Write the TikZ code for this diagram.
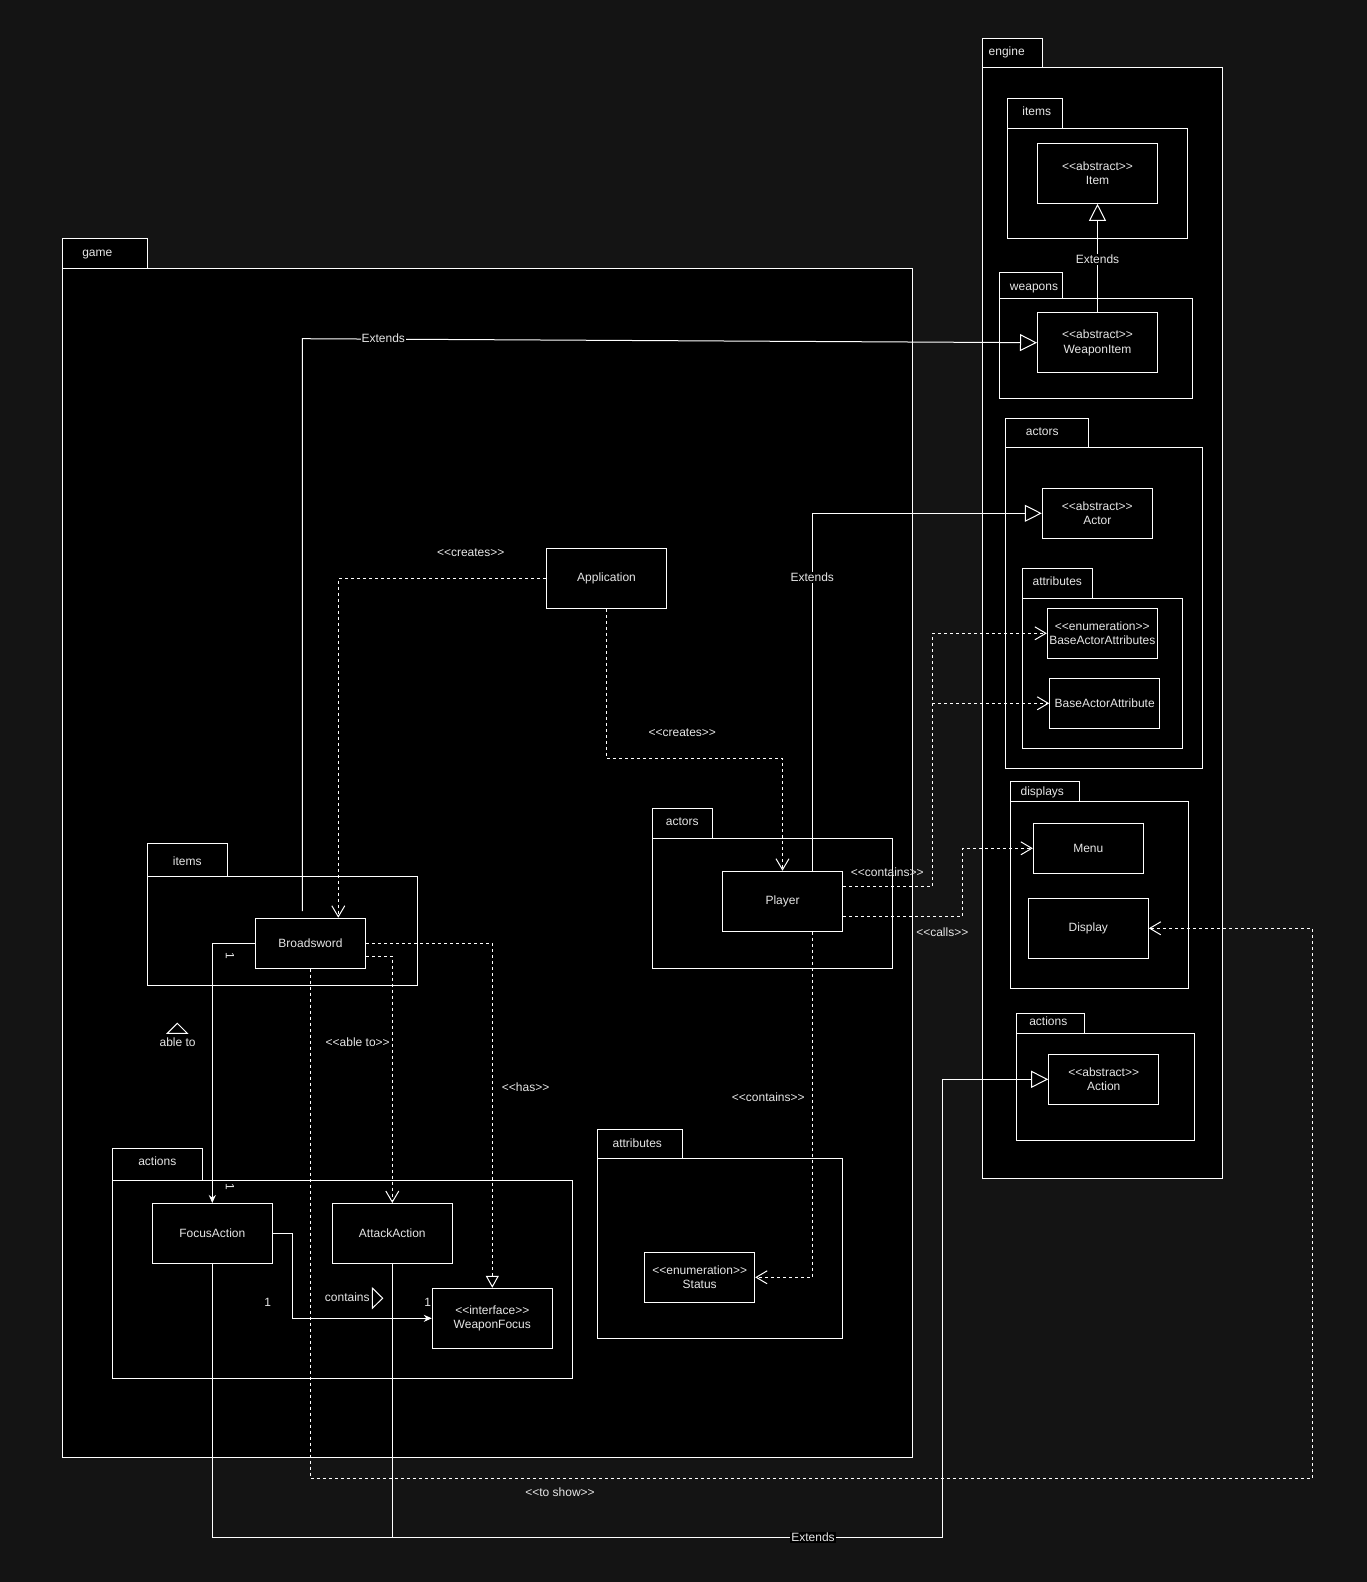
\documentclass[tikz,border=0pt]{standalone}
\usepackage{fontspec}
\setmainfont{Liberation Sans}
\usetikzlibrary{arrows.meta,calc}
\definecolor{bg}{HTML}{141414}
\definecolor{txt}{HTML}{E6E6E6}
\newcommand{\fs}{\fontsize{12}{14.5}\selectfont}
% #1 name, #2 tx1, #3 ty1, #4 tx2, #5 ty2 (=body top), #6 bx2, #7 by2, #8 label position x,y, #9 text
\newcommand{\umlpkg}[9]{%
  \draw[pk] (#2,#3) rectangle (#4,#5);
  \draw[pk] (#2,#5) rectangle (#6,#7);
  \node[lbl,text height=9pt,text depth=2.5pt] (#1) at (#8) {#9};}
\begin{document}
\begin{tikzpicture}[x=1pt,y=-1pt,
 cls/.style={draw=white, fill=black, text=txt, line width=1pt, align=center, inner sep=0pt, font=\fs},
 lbl/.style={text=txt, font=\fs, inner sep=1pt},
 pk/.style={draw=white, fill=black, line width=1pt},
 con/.style={draw=white, line width=1pt},
 dsh/.style={con, dash pattern=on 3pt off 3pt},
 ext/.style={con, -{Triangle[length=17pt,width=17pt,fill=black]}},
 dep/.style={dsh, -{Straight Barb[length=11pt,width=13pt]}},
 real/.style={dsh, -{Triangle[length=12pt,width=13pt,fill=black]}},
 asc/.style={con, -{Stealth[length=8pt,width=7pt]}},
 c120/.style={cls, minimum width=120pt, minimum height=60pt},
 c110/.style={cls, minimum width=110pt, minimum height=50pt},
]
\fill[bg] (0,0) rectangle (1367,1582);
\useasboundingbox (0,0) rectangle (1367,1582);

% packages: game
\umlpkg{pgame}{62.3}{238.3}{147.3}{268.3}{912.3}{1457.9}{97.3,253}{game}
\umlpkg{pgitems}{147.3}{843.3}{227.3}{876}{417.3}{985.7}{187.3,862.3}{items}
\umlpkg{pgactions}{112.3}{1148.3}{202.3}{1180.7}{572.3}{1378.2}{157.3,1162.3}{actions}
\umlpkg{pgactors}{652.3}{808.3}{712.3}{838.3}{892.3}{968.3}{682.3,822.7}{actors}
\umlpkg{pgattr}{597.3}{1129}{682.3}{1158.7}{842.4}{1338.3}{637.3,1144}{attributes}
% packages: engine
\umlpkg{peng}{982.3}{38.3}{1042.3}{67.7}{1222.3}{1178.4}{1006.7,52}{engine}
\umlpkg{peitems}{1007.7}{98.3}{1062.3}{128.3}{1187}{238.3}{1036.7,112.7}{items}
\umlpkg{pewpn}{999.7}{272.3}{1062.3}{298.3}{1192.3}{398.3}{1034,287.7}{weapons}
\umlpkg{peactors}{1005}{418.3}{1088.3}{447.7}{1202.3}{768.3}{1042.3,432.7}{actors}
\umlpkg{peattr}{1022.3}{568.3}{1092.3}{598.3}{1182.3}{748.3}{1057.3,582.7}{attributes}
\umlpkg{pedisp}{1010.7}{781.7}{1079}{801}{1188.3}{988.3}{1042.3,792.7}{displays}
\umlpkg{peact}{1016.3}{1013.3}{1084.3}{1033.3}{1194}{1140}{1048.3,1022.7}{actions}

% classes
\node[c120] (item) at (1097.5,173.3) {<{}<abstract>{}>\\Item};
\node[c120] (wi) at (1097.5,342.7) {<{}<abstract>{}>\\WeaponItem};
\node[c110] (actor) at (1097.3,513.3) {<{}<abstract>{}>\\Actor};
\node[c110] (baas) at (1102.3,633.3) {<{}<enumeration>{}>\\BaseActorAttributes};
\node[c110] (baa) at (1104.7,703.3) {BaseActorAttribute};
\node[c110] (menu) at (1088.3,848.3) {Menu};
\node[c120] (disp) at (1088.3,928.3) {Display};
\node[c110] (act) at (1103.7,1079.3) {<{}<abstract>{}>\\Action};
\node[c120] (app) at (606.5,578.3) {Application};
\node[c120] (player) at (782.5,901.2) {Player};
\node[c110] (bs) at (310.5,943.2) {Broadsword};
\node[c120] (fa) at (212.3,1233.5) {FocusAction};
\node[c120] (aa) at (392.3,1233.5) {AttackAction};
\node[c120] (wf) at (492.3,1318.3) {<{}<interface>{}>\\WeaponFocus};
\node[c110] (status) at (699.7,1277.3) {<{}<enumeration>{}>\\Status};

% Extends connectors
\coordinate (bsext) at (302.3,911);
\draw[ext] (bsext) -- (302.3,338.7) -- (wi.west);
\node[lbl,fill=black] (lext1) at (383.3,338.5) {Extends};
\draw[ext] (wi.north) -- (item.south);
\node[lbl,fill=black] (lext2) at (1097.5,259.3) {Extends};
\draw[ext] ($(player.north)+(29.8,0)$) |- (actor.west);
\node[lbl,fill=black] (lext3) at (812.3,577.3) {Extends};
\draw[ext] (fa.south) -- (212.3,1537.6) -- (942.3,1537.6) |- (act.west);
\draw[con] (aa.south) -- (392.3,1537.6);
\node[lbl,fill=black] (lext4) at (813,1537.6) {Extends};

% dependencies
\draw[dep] (app.west) -| ($(bs.north)+(27.8,0)$);
\node[lbl] (lcr1) at (470.7,552.7) {<{}<creates>{}>};
\draw[dep] (app.south) -- (606.5,758.3) -| (player.north);
\node[lbl] (lcr2) at (682.3,732.3) {<{}<creates>{}>};
\coordinate (jct) at (932.3,703.3);
\draw[dep] ($(player.east)+(0,-14.9)$) -- (932.3,886.3) |- (baas.west);
\draw[dep] (jct) -- (baa.west);
\node[lbl] (lcont1) at (887.3,872.3) {<{}<contains>{}>};
\draw[dep] ($(player.east)+(0,15.1)$) -- (962.3,916.3) |- (menu.west);
\node[lbl] (lcalls) at (942.3,932.3) {<{}<calls>{}>};
\draw[dep] ($(player.south)+(29.8,0)$) |- (status.east);
\node[lbl] (lcont2) at (768.3,1097.3) {<{}<contains>{}>};
\draw[dep] (bs.south) -- (310.5,1478.3) -- (1312.3,1478.3) |- (disp.east);
\node[lbl] (lshow) at (560,1492) {<{}<to show>{}>};
\draw[dep] ($(bs.east)+(0,12.8)$) -| (aa.north);
\node[lbl] (lable) at (357.7,1042.3) {<{}<able to>{}>};
\draw[real] (bs.east) -| (wf.north);
\node[lbl] (lhas) at (525.6,1087.6) {<{}<has>{}>};

% associations
\draw[asc] (bs.west) -| (fa.north);
\node[lbl,rotate=-90] (m1) at (230,956) {1};
\node[lbl,rotate=-90] (m2) at (230,1187) {1};
\draw[asc] (fa.east) -- (292.3,1233.5) |- (wf.west);
\node[lbl] (m3) at (267.7,1302.7) {1};
\node[lbl] (m4) at (427.7,1302.7) {1};
\node[lbl] (lcontains) at (347.3,1297.3) {contains};
\draw[con,fill=black] (372.3,1288) -- (382.7,1298.2) -- (372.3,1308.3) -- cycle;

% able to
\draw[con] (167.3,1033.3) -- (177.3,1023.3) -- (187.3,1033.3) -- cycle;
\node[lbl] (lableto) at (177.6,1042.3) {able to};
\end{tikzpicture}
\end{document}
